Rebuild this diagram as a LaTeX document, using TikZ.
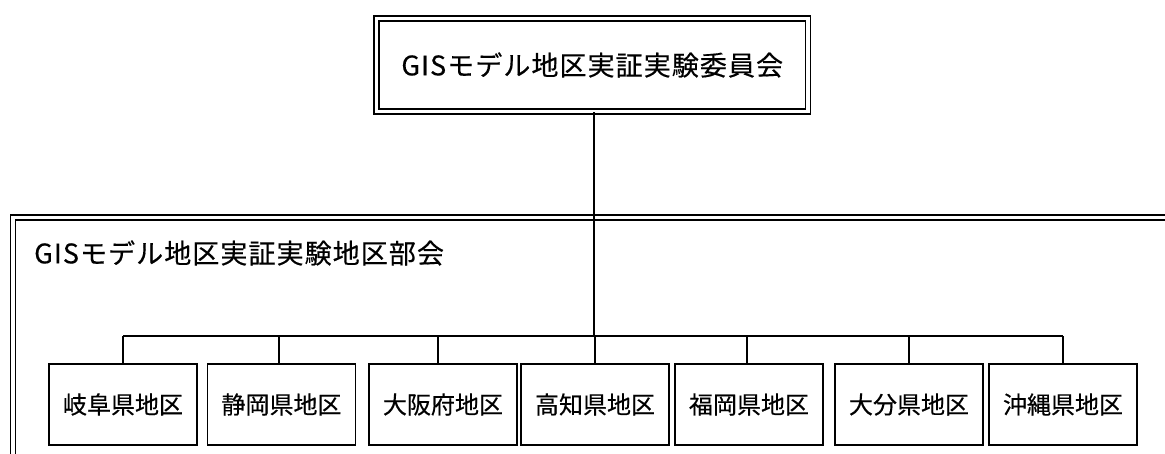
\documentclass[tikz,border=0pt]{standalone}
\usepackage{fontspec}
\setmainfont{Noto Sans CJK JP}
\newfontfamily\jptitle{Noto Sans CJK JP}[LetterSpace=4,FakeBold=0.4]
\newfontfamily\jpbox{Noto Sans CJK JP}[FakeBold=0.4]
\begin{document}
\begin{tikzpicture}[x=1pt,y=-1pt,
  dbl/.style={draw=black,double=white,line width=1.3pt,double distance=3.6pt},
  areabox/.style={draw=black,line width=1.6pt,minimum width=148pt,minimum height=81pt,inner sep=0pt,
     font=\jpbox\fontsize{24}{28}\selectfont},
  conn/.style={draw=black,line width=1.2pt}]
\clip (0,0) rectangle (1165,453);
\fill[white] (0,0) rectangle (1165,453);
% big group box
\draw[dbl] (13,217.5) rectangle (1190,480);
\node[anchor=west,inner sep=0pt,font=\jptitle\fontsize{27}{31}\selectfont] (grp) at (34,253) {GISモデル地区実証実験地区部会};
% top committee box
\node[dbl,minimum width=431.5pt,minimum height=93pt,inner sep=0pt,
  font=\jptitle\fontsize{27}{31}\selectfont] (top) at (592.25,65) {GISモデル地区実証実験委員会};
% area boxes
\node[areabox] (a1) at (123,404.5) {岐阜県地区};
\node[areabox] (a2) at (281.5,404.5) {静岡県地区};
\node[areabox] (a3) at (443,404.5) {大阪府地区};
\node[areabox] (a4) at (595,404.5) {高知県地区};
\node[areabox] (a5) at (749,404.5) {福岡県地区};
\node[areabox] (a6) at (909,404.5) {大分県地区};
\node[areabox] (a7) at (1063,404.5) {沖縄県地区};
% bus coordinates
\coordinate (t) at (594,114);
\coordinate (c1) at (123,336);
\coordinate (c2) at (279,336);
\coordinate (c3) at (438,336);
\coordinate (c4) at (595,336);
\coordinate (c5) at (747,336);
\coordinate (c6) at (909,336);
\coordinate (c7) at (1063,336);
\draw[conn] (top.south -| t) -- (t |- c4);
\draw[conn] (c1) -- (c7);
\foreach \i in {1,...,7}{\draw[conn] (c\i) -- (c\i |- a\i.north);}
\end{tikzpicture}
\end{document}
